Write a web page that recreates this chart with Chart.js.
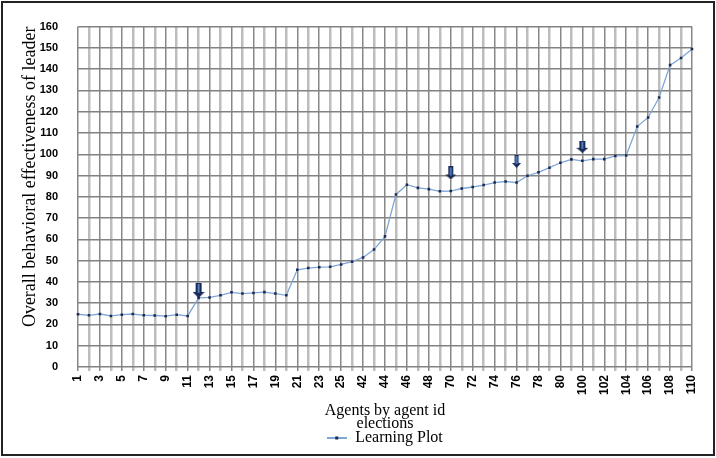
<!DOCTYPE html>
<html><head><meta charset="utf-8">
<script src="https://cdn.jsdelivr.net/npm/chart.js@4.4.0/dist/chart.umd.min.js"></script>
<style>
html,body{margin:0;padding:0;background:#fff;}
#wrap{position:relative;width:716px;height:458px;}
#frame{position:absolute;left:1px;top:1px;width:714px;height:455px;border:2px solid #222;box-sizing:border-box;pointer-events:none;}
canvas{position:absolute;left:0;top:0;}
</style></head><body>
<div id="wrap"><canvas id="c" width="716" height="458"></canvas><div id="frame"></div></div>
<script>
// Category labels (agent ids); every other label is shown on the axis
const categories = ['1','2','3','4','5','6','7','8','9','10','11','12','13','14','15','16','17','18','19','20','21','22','23','24','25',
  '41','42','43','44','45','46','47','48','49',
  '70','71','72','73','74','75','76','77','78','79','80','81',
  '100','101','102','103','104','105','106','107','108','109','110'];

// Learning Plot series values
const learningValues = [24.8,24.3,24.9,24.0,24.6,24.9,24.3,24.2,23.9,24.6,24.0,
  32.5,32.7,33.7,35.1,34.5,34.8,35.2,34.5,33.7,
  45.7,46.5,46.9,
  47.1,48.2,49.5,51.5,55.2,61.4,81.1,85.7,84.2,83.6,82.6,
  82.7,83.9,84.6,85.5,86.7,87.2,86.7,89.9,91.5,93.7,96.0,97.6,
  96.9,97.7,97.7,99.2,99.4,113.0,117.3,126.7,141.9,145.2,149.5];

// Down-arrow markers (category index, value)
const arrowIndex = [11, 34, 40, 46];
const arrowValue = [36.0, 91.2, 96.6, 103.5];

const yTicks = {min:0, max:160, step:10};

function makeArrow(w, shaftW, h, headH){
  const c = document.createElement('canvas'); c.width = w; c.height = h;
  const g = c.getContext('2d'); const cx = w/2;
  g.beginPath();
  g.moveTo(cx-shaftW/2,0); g.lineTo(cx+shaftW/2,0); g.lineTo(cx+shaftW/2,h-headH);
  g.lineTo(w,h-headH); g.lineTo(cx,h); g.lineTo(0,h-headH); g.lineTo(cx-shaftW/2,h-headH);
  g.closePath(); g.fillStyle = '#1b2a55'; g.fill();
  g.fillStyle = '#4f7fc4'; g.fillRect(cx-1, 1, 2, h-headH);
  return c;
}
const arrowImgs = [makeArrow(12,6,15,6), makeArrow(11,5,13,5), makeArrow(9,4,13,5), makeArrow(12,6,12,5)];

const arrowData = categories.map(()=>null);
arrowIndex.forEach((idx,k)=>{ arrowData[idx] = arrowValue[k]; });
const arrowStyleAt = {};
arrowIndex.forEach((idx,k)=>{ arrowStyleAt[idx] = arrowImgs[k]; });

const legendImg = (function(){
  const c = document.createElement('canvas'); c.width = 20; c.height = 6;
  const g = c.getContext('2d');
  g.strokeStyle = '#7ea6d6'; g.lineWidth = 2; g.beginPath(); g.moveTo(0,3); g.lineTo(20,3); g.stroke();
  g.fillStyle = '#1b2a55'; g.fillRect(8,1.5,3,3);
  return c;
})();

const serif = "'Liberation Serif','Times New Roman',serif";
const sans = "'Liberation Sans',Arial,sans-serif";

// shift the legend so that it is centred under the plot area
const legendShift = {
  id:'legendShift',
  afterLayout(chart){
    const lg = chart.legend; if (!lg) return;
    const ca = chart.chartArea;
    const cur = (lg.left + lg.right)/2, want = (ca.left + ca.right)/2;
    lg.left += 2*(want-cur);
  }
};

new Chart(document.getElementById('c'), {
  type: 'line',
  data: {
    labels: categories,
    datasets: [
      {label:'Learning Plot', data: learningValues, borderColor:'#7ea6d6', borderWidth:1.3, tension:0,
       pointStyle:'rect', pointRadius:1.8, pointBackgroundColor:'#1b2a55', pointBorderColor:'#1b2a55', pointBorderWidth:0, order:1},
      {label:'arrows', data: arrowData, showLine:false, order:0,
       pointStyle: (ctx)=> arrowStyleAt[ctx.dataIndex] || 'circle', pointRadius:6}
    ]
  },
  plugins:[legendShift],
  options: {
    responsive:false, animation:false, devicePixelRatio:1,
    layout:{padding:{left:0,right:24,top:17,bottom:2}},
    plugins:{
      tooltip:{enabled:false},
      legend:{position:'bottom',
        labels:{usePointStyle:true, pointStyleWidth:20, padding:2, color:'#000',
          font:{family:serif, size:16},
          generateLabels: ()=>[{text:'Learning Plot', pointStyle:legendImg, fillStyle:'rgba(0,0,0,0)', strokeStyle:'rgba(0,0,0,0)', lineWidth:0, datasetIndex:0, hidden:false, fontColor:'#000'}]
        }}
    },
    scales:{
      x:{
        grid:{color:(c)=> (c.index%2===0 ? '#888888' : '#bdbdbd'), lineWidth:(c)=> (c.index%2===0 ? 1.5 : 2.5), tickLength:4},
        border:{display:false},
        ticks:{autoSkip:false, minRotation:90, maxRotation:90, padding:4, color:'#000',
          font:{family:sans, weight:'bold', size:12},
          callback:(v,i)=> (i%2===0 ? categories[i] : '')},
        title:{display:true, text:['Agents by agent id','elections'], color:'#000', font:{family:serif, size:16, lineHeight:0.85}, padding:{top:0,bottom:-3}},
        afterFit:(s)=>{ s.height = 61; }
      },
      y:{
        min:yTicks.min, max:yTicks.max,
        ticks:{stepSize:yTicks.step, padding:20, color:'#000', font:{family:sans, weight:'bold', size:11}},
        grid:{drawTicks:false, color:'#828282', lineWidth:1.5},
        border:{display:false},
        title:{display:true, align:'end', text:'Overall behavioral effectiveness of leader', color:'#000', font:{family:serif, size:18, lineHeight:1}, padding:{top:21,bottom:0}},
        afterFit:(s)=>{ s.width = 78; }
      }
    }
  }
});
</script>
</body></html>
